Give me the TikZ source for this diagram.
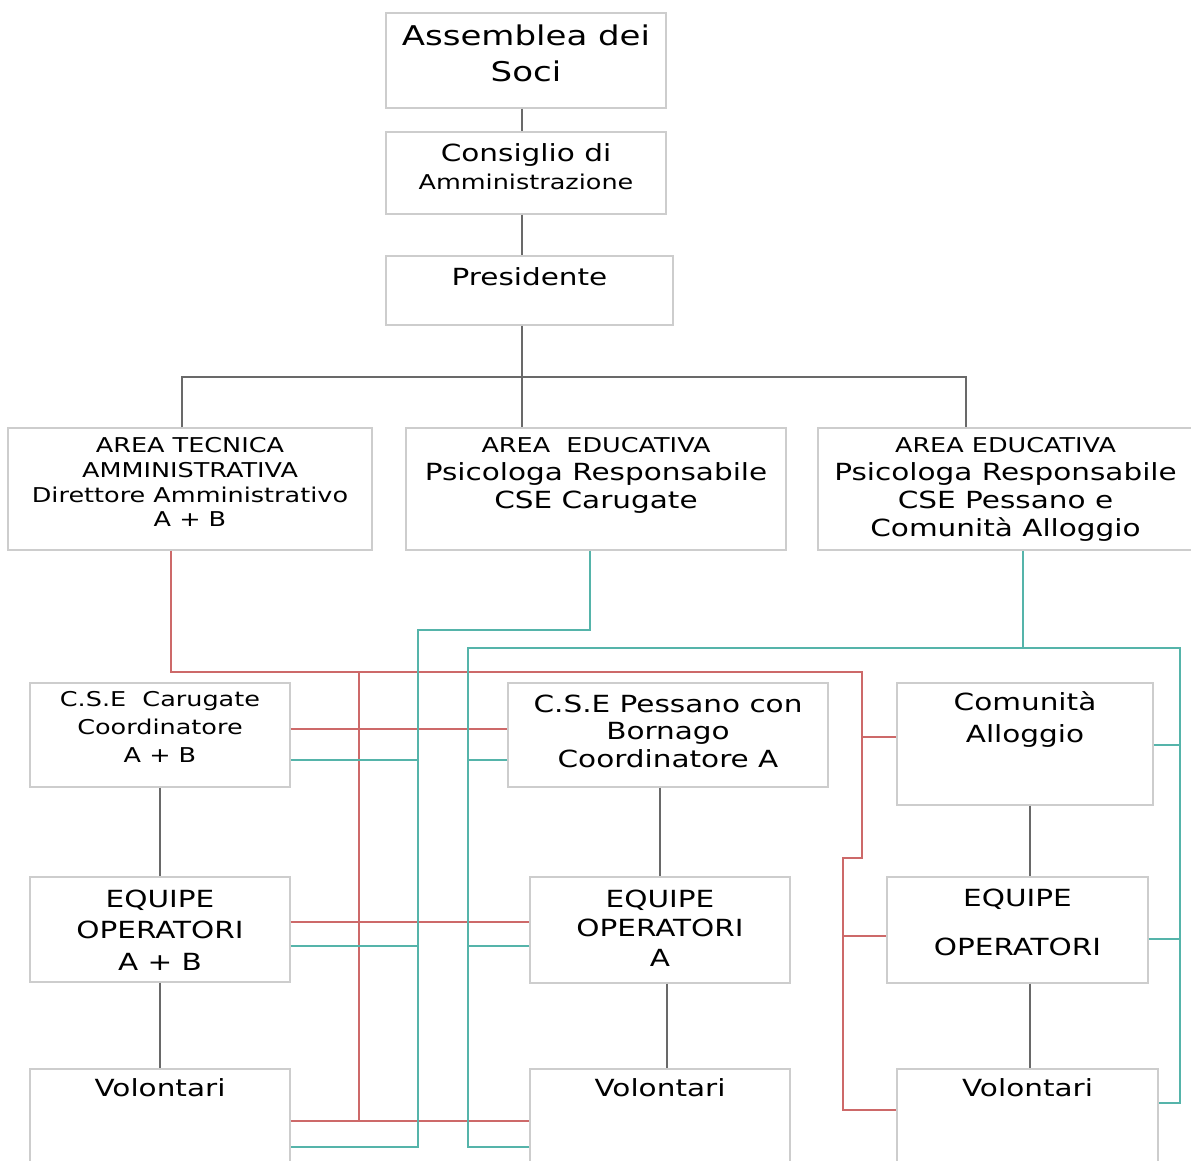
\documentclass[tikz,border=0pt]{standalone}
\usepackage{fontspec}
\setmainfont[FakeStretch=1.25]{DejaVu Sans}

\definecolor{boxgray}{RGB}{205,205,205}
\definecolor{linkgray}{RGB}{105,105,105}
\definecolor{redlink}{RGB}{205,105,105}
\definecolor{teallink}{RGB}{85,180,170}

\newcommand{\bigtxt}{\fontsize{23.6}{28}\selectfont}
\newcommand{\smalltxt}{\fontsize{20.4}{24.7}\selectfont}

\begin{document}
\begin{tikzpicture}[x=1pt, y=-1pt,
    box/.style={draw=boxgray, line width=1.3pt, inner sep=0pt},
    txt/.style={anchor=north, align=center, inner sep=0pt, text=black},
    tie/.style={draw=linkgray, line width=1.2pt},
    redtie/.style={draw=redlink, line width=1.2pt},
    tealtie/.style={draw=teallink, line width=1.2pt}]
    \useasboundingbox (0,0) rectangle (1191,1160);

    % Top chain
    \node[box, minimum width=280, minimum height=95,
          label={[txt, font=\fontsize{27.2}{36}\selectfont, yshift=-12pt]north:Assemblea dei\\Soci}]
          (soci) at (526,60.5) {};
    \node[box, minimum width=280, minimum height=82,
          label={[txt, font=\fontsize{23.6}{28}\selectfont, yshift=-12pt]north:Consiglio di\\{\smalltxt Amministrazione}}]
          (consiglio) at (526,173) {};
    \node[box, minimum width=287, minimum height=69,
          label={[txt, font=\bigtxt, yshift=-12pt]north:Presidente}]
          (presidente) at (529.5,290.5) {};

    % Areas
    \node[box, minimum width=364, minimum height=122,
          label={[txt, font=\smalltxt, yshift=-10pt]north:AREA TECNICA\\AMMINISTRATIVA\\Direttore Amministrativo\\A + B}]
          (tecnica) at (190,489) {};
    \node[box, minimum width=380, minimum height=122,
          label={[txt, font=\bigtxt, yshift=-10pt]north:{\smalltxt AREA\ \ EDUCATIVA}\\Psicologa Responsabile\\CSE Carugate}]
          (eduCar) at (596,489) {};
    \node[box, minimum width=375, minimum height=122,
          label={[txt, font=\bigtxt, yshift=-10pt]north:{\smalltxt AREA EDUCATIVA}\\Psicologa Responsabile\\CSE Pessano e\\Comunità Alloggio}]
          (eduPes) at (1005.5,489) {};

    % Services
    \node[box, minimum width=260, minimum height=104,
          label={[txt, font=\fontsize{20.4}{28}\selectfont, yshift=-9pt]north:C.S.E\ \ Carugate\\Coordinatore\\A + B}]
          (cseCar) at (160,735) {};
    \node[box, minimum width=320, minimum height=104,
          label={[txt, font=\fontsize{23.6}{27.5}\selectfont, yshift=-12pt]north:C.S.E Pessano con\\Bornago\\Coordinatore A}]
          (csePes) at (668,735) {};
    \node[box, minimum width=256, minimum height=122,
          label={[txt, font=\fontsize{23.6}{32}\selectfont, yshift=-9pt]north:Comunità\\Alloggio}]
          (comunita) at (1025,744) {};

    % Equipes
    \node[box, minimum width=260, minimum height=105,
          label={[txt, font=\fontsize{23.6}{31.5}\selectfont, yshift=-13pt]north:EQUIPE\\OPERATORI\\A + B}]
          (eqAB) at (160,929.5) {};
    \node[box, minimum width=260, minimum height=106,
          label={[txt, font=\fontsize{23.6}{29.5}\selectfont, yshift=-13pt]north:EQUIPE\\OPERATORI\\A}]
          (eqA) at (660,930) {};
    \node[box, minimum width=261, minimum height=106,
          label={[txt, font=\bigtxt, yshift=-12pt]north:EQUIPE\\[21pt]OPERATORI}]
          (eqOp) at (1017.5,930) {};

    % Volontari
    \node[box, minimum width=260, minimum height=110,
          label={[txt, font=\bigtxt, yshift=-10pt]north:Volontari}]
          (volAB) at (160,1124) {};
    \node[box, minimum width=260, minimum height=110,
          label={[txt, font=\bigtxt, yshift=-10pt]north:Volontari}]
          (volA) at (660,1124) {};
    \node[box, minimum width=261, minimum height=110,
          label={[txt, font=\bigtxt, yshift=-10pt]north:Volontari}]
          (volOp) at (1027.5,1124) {};

    % Gray hierarchy
    \coordinate (spine) at (522,0);
    \coordinate (busL) at (182,377);
    \coordinate (busR) at (966,377);
    \coordinate (comSpine) at (1030,0);
    \draw[tie] (soci.south -| spine) -- (consiglio.north -| spine);
    \draw[tie] (consiglio.south -| spine) -- (presidente.north -| spine);
    \draw[tie] (presidente.south -| spine) -- (eduCar.north -| spine);
    \draw[tie] (tecnica.north -| busL) -- (busL) -- (busR) -- (eduPes.north -| busR);
    \draw[tie] (cseCar) -- (eqAB);
    \draw[tie] (eqAB) -- (volAB);
    \draw[tie] (csePes.south -| eqA) -- (eqA.north);
    \draw[tie] ([xshift=7pt]eqA.south) -- ([xshift=7pt]volA.north);
    \draw[tie] (comunita.south -| comSpine) -- (eqOp.north -| comSpine);
    \draw[tie] (eqOp.south -| comSpine) -- (volOp.north -| comSpine);

    % Red lines (area tecnica)
    \coordinate (redTL) at (171,672);
    \coordinate (redTR) at (862,672);
    \coordinate (redMid) at (359,672);
    \coordinate (redJog) at (843,858);
    \coordinate (rCse) at (0,729);
    \coordinate (rEq) at (0,922);
    \coordinate (rVol) at (0,1121);
    \coordinate (rCom) at (0,737);
    \coordinate (rEqOp) at (0,936);
    \coordinate (rVolOp) at (0,1110);
    \draw[redtie] (tecnica.south -| redTL) -- (redTL) -- (redTR) |- (redJog) |- (volOp.west |- rVolOp);
    \draw[redtie] (redMid) -- (redMid |- rVol);
    \draw[redtie] (cseCar.east |- rCse) -- (csePes.west |- rCse);
    \draw[redtie] (eqAB.east |- rEq) -- (eqA.west |- rEq);
    \draw[redtie] (volAB.east |- rVol) -- (volA.west |- rVol);
    \draw[redtie] (redTR |- rCom) -- (comunita.west |- rCom);
    \draw[redtie] (redJog |- rEqOp) -- (eqOp.west |- rEqOp);

    % Teal lines (aree educative)
    \coordinate (tCarBend) at (590,630);
    \coordinate (tCarDrop) at (418,630);
    \coordinate (tPesBend) at (1023,648);
    \coordinate (tPesL) at (468,648);
    \coordinate (tPesR) at (1180,648);
    \coordinate (tCse) at (0,760);
    \coordinate (tEq) at (0,946);
    \coordinate (tVol) at (0,1147);
    \coordinate (tCom) at (0,745);
    \coordinate (tEqOp) at (0,939);
    \coordinate (tVolOp) at (0,1103);
    \draw[tealtie] (eduCar.south -| tCarBend) -- (tCarBend) -- (tCarDrop) |- (volAB.east |- tVol);
    \draw[tealtie] (cseCar.east |- tCse) -- (tCarDrop |- tCse);
    \draw[tealtie] (eqAB.east |- tEq) -- (tCarDrop |- tEq);
    \draw[tealtie] (eduPes.south -| tPesBend) -- (tPesBend);
    \draw[tealtie] (volA.west |- tVol) -| (tPesL) -- (tPesR) |- (volOp.east |- tVolOp);
    \draw[tealtie] (csePes.west |- tCse) -- (tPesL |- tCse);
    \draw[tealtie] (eqA.west |- tEq) -- (tPesL |- tEq);
    \draw[tealtie] (comunita.east |- tCom) -- (tPesR |- tCom);
    \draw[tealtie] (eqOp.east |- tEqOp) -- (tPesR |- tEqOp);
\end{tikzpicture}
\end{document}
